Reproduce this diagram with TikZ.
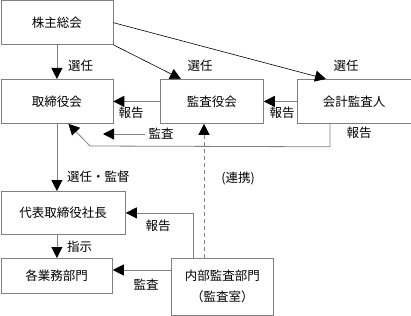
\documentclass[tikz,border=0pt]{standalone}
\usepackage{fontspec}
\setmainfont{Noto Sans CJK JP}
\usepackage{tikz}
\usetikzlibrary{calc, arrows.meta}
\definecolor{lineGray}{HTML}{808080}

\begin{document}
\begin{tikzpicture}[x=1pt, y=-1pt,
    every node/.style={font=\fontsize{12.5}{16}\selectfont, inner sep=0pt},
    box/.style={draw=lineGray, line width=0.8pt, anchor=north west, align=center},
    arr/.style={-{Triangle[length=11pt, width=11pt, color=black]}, line width=0.8pt, lineGray},
    darr/.style={-{Triangle[length=11pt, width=11pt]}, line width=0.6pt, black}]
    \useasboundingbox (0,0) rectangle (411,315);
    \node[box, minimum width=112pt, minimum height=43.5pt] (soukai) at (0.5,0.5) {株主総会};
    \node[box, minimum width=112pt, minimum height=44pt] (torishimari) at (0.5,79) {取締役会};
    \node[box, minimum width=103pt, minimum height=44pt] (kansayaku) at (160,79) {監査役会};
    \node[box, minimum width=113.5pt, minimum height=44pt] (kaikei) at (297,79) {会計監査人};
    \node[box, minimum width=124.5pt, minimum height=43pt] (daihyo) at (0.5,191) {代表取締役社長};
    \node[box, minimum width=111.5pt, minimum height=35pt] (gyomu) at (0.5,258) {各業務部門};
    \node[box, minimum width=102pt, minimum height=56.5pt] (naibu) at (171,258) {内部監査部門\\[5pt]（監査室）};
    \coordinate (dashX) at (204,0);
    \coordinate (reportX) at (193,0);
    \coordinate (auditY) at (0,270);
    \coordinate (bend) at (90,146);
    \coordinate (kansaTip) at (103,134);
    \draw[arr] (soukai) -- (torishimari);
    \draw[darr] (soukai.south east) -- ($(kansayaku.north west)+(21,0)$);
    \draw[darr] (soukai.east) -- ($(kaikei.north west)+(29,0)$);
    \draw[arr] (kansayaku) -- (torishimari);
    \draw[arr] (kaikei) -- (kansayaku);
    \draw[arr] ($(kaikei.south west)+(33,0)$) -- ++(0,23) -- (bend) -- ($(torishimari.south)+(11.5,0)$);
    \draw[arr, dash pattern=on 4pt off 3pt] (naibu.north -| dashX) -- (kansayaku.south -| dashX);
    \draw[arr] (torishimari) -- (torishimari |- daihyo.north);
    \draw[arr] (daihyo.south -| torishimari) -- (torishimari |- gyomu.north);
    \draw[arr] (naibu.north -| reportX) |- (daihyo.east);
    \draw[arr] (naibu.west |- auditY) -- (gyomu.east |- auditY);
    \node (sennin1) at (80.5,66) {選任};
    \node (sennin2) at (200,66) {選任};
    \node (sennin3) at (346,66) {選任};
    \node (houkoku1) at (131,113) {報告};
    \node (houkoku2) at (282,113) {報告};
    \node (houkoku3) at (359,133) {報告};
    \node (kansa1) at (161,134) {監査};
    \draw[arr] ($(kansa1.west)+(-3,0)$) -- (kansaTip);
    \node (renkei) at (238,178) {(連携)};
    \node[anchor=west] (kantoku) at (67,177) {選任・監督};
    \node[anchor=west] (shiji) at (67,247) {指示};
    \node (houkoku4) at (158,226) {報告};
    \node (kansa2) at (146,285) {監査};
\end{tikzpicture}
\end{document}
